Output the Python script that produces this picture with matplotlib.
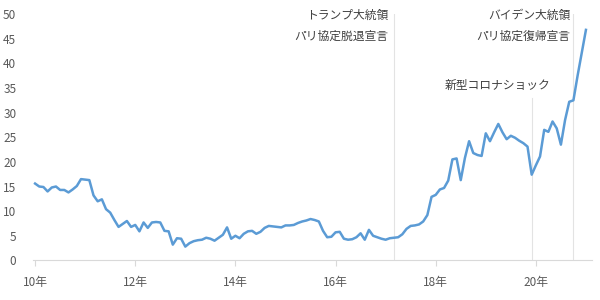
import matplotlib.pyplot as plt

plt.rcParams["font.family"] = ["Noto Sans CJK JP", "DejaVu Sans"]

# monthly values, Jan 2010 .. Jan 2021
values = [
    15.6, 15.0, 14.9, 14.0, 14.8, 15.0, 14.3, 14.3, 13.8, 14.4, 15.1, 16.5,
    16.4, 16.3, 13.2, 12.0, 12.4, 10.4, 9.7, 8.2, 6.8, 7.4, 8.0, 6.8,
    7.2, 5.9, 7.7, 6.6, 7.7, 7.8, 7.7, 6.0, 5.9, 3.2, 4.5, 4.4,
    2.8, 3.5, 3.9, 4.1, 4.2, 4.6, 4.4, 4.0, 4.6, 5.2, 6.7, 4.4,
    5.0, 4.5, 5.4, 5.9, 6.0, 5.4, 5.8, 6.6, 7.0, 6.9, 6.8, 6.7,
    7.1, 7.1, 7.2, 7.6, 7.9, 8.1, 8.4, 8.2, 7.9, 6.0, 4.7, 4.8,
    5.7, 5.8, 4.4, 4.2, 4.3, 4.7, 5.5, 4.2, 6.2, 5.0, 4.7, 4.4,
    4.2, 4.5, 4.6, 4.7, 5.3, 6.4, 7.0, 7.1, 7.3, 7.9, 9.2, 12.9,
    13.3, 14.4, 14.7, 16.2, 20.5, 20.7, 16.3, 20.8, 24.2, 21.8, 21.4, 21.2,
    25.8, 24.2, 26.0, 27.7, 26.0, 24.6, 25.3, 24.9, 24.3, 23.8, 23.1, 17.4,
    19.3, 21.1, 26.5, 26.1, 28.2, 26.8, 23.5, 28.5, 32.2, 32.5, 37.5, 42.2,
    46.8,
]
months = list(range(len(values)))

tick_months = [0, 24, 48, 72, 96, 120]
tick_labels = ["10年", "12年", "14年", "16年", "18年", "20年"]

# events: (month, top of the marker line, text lines, text x, text y)
event_months = [86, 119, 129]
event_tops = [50, 33, 50]
event_texts = [
    ["トランプ大統領", "パリ協定脱退宣言"],
    ["新型コロナショック"],
    ["バイデン大統領", "パリ協定復帰宣言"],
]
text_x = [84.7, 123.4, 128.2]
text_y = [[49.8, 45.5], [35.6], [49.8, 45.5]]

gray = "#595959"
fig = plt.figure(figsize=(6, 3), dpi=100)
ax = fig.add_axes([0.055, 0.132, 0.932, 0.821])

for m, top in zip(event_months, event_tops):
    ax.plot([m, m], [0, top], color="#e3e3e3", lw=0.8, zorder=1)

ax.plot(months, values, color="#5b9bd5", lw=1.8, zorder=3, clip_on=False)

for lines, tx, tys in zip(event_texts, text_x, text_y):
    for s, ty in zip(lines, tys):
        ax.text(tx, ty, s, ha="right", va="center", fontsize=8.5, color="#404040")

ax.set_xlim(-0.5, 133.5)
ax.set_ylim(0, 50)
ax.set_yticks(range(0, 51, 5))
ax.set_xticks(tick_months)
ax.set_xticklabels(tick_labels)

for side in ["top", "right", "left"]:
    ax.spines[side].set_visible(False)
ax.spines["bottom"].set_color("#d9d9d9")
ax.tick_params(axis="y", length=0, pad=12, labelsize=8.5, labelcolor=gray)
ax.tick_params(axis="x", length=4, color="#d9d9d9", pad=7, labelsize=8.5, labelcolor=gray)

fig.savefig("out.png", dpi=100)
